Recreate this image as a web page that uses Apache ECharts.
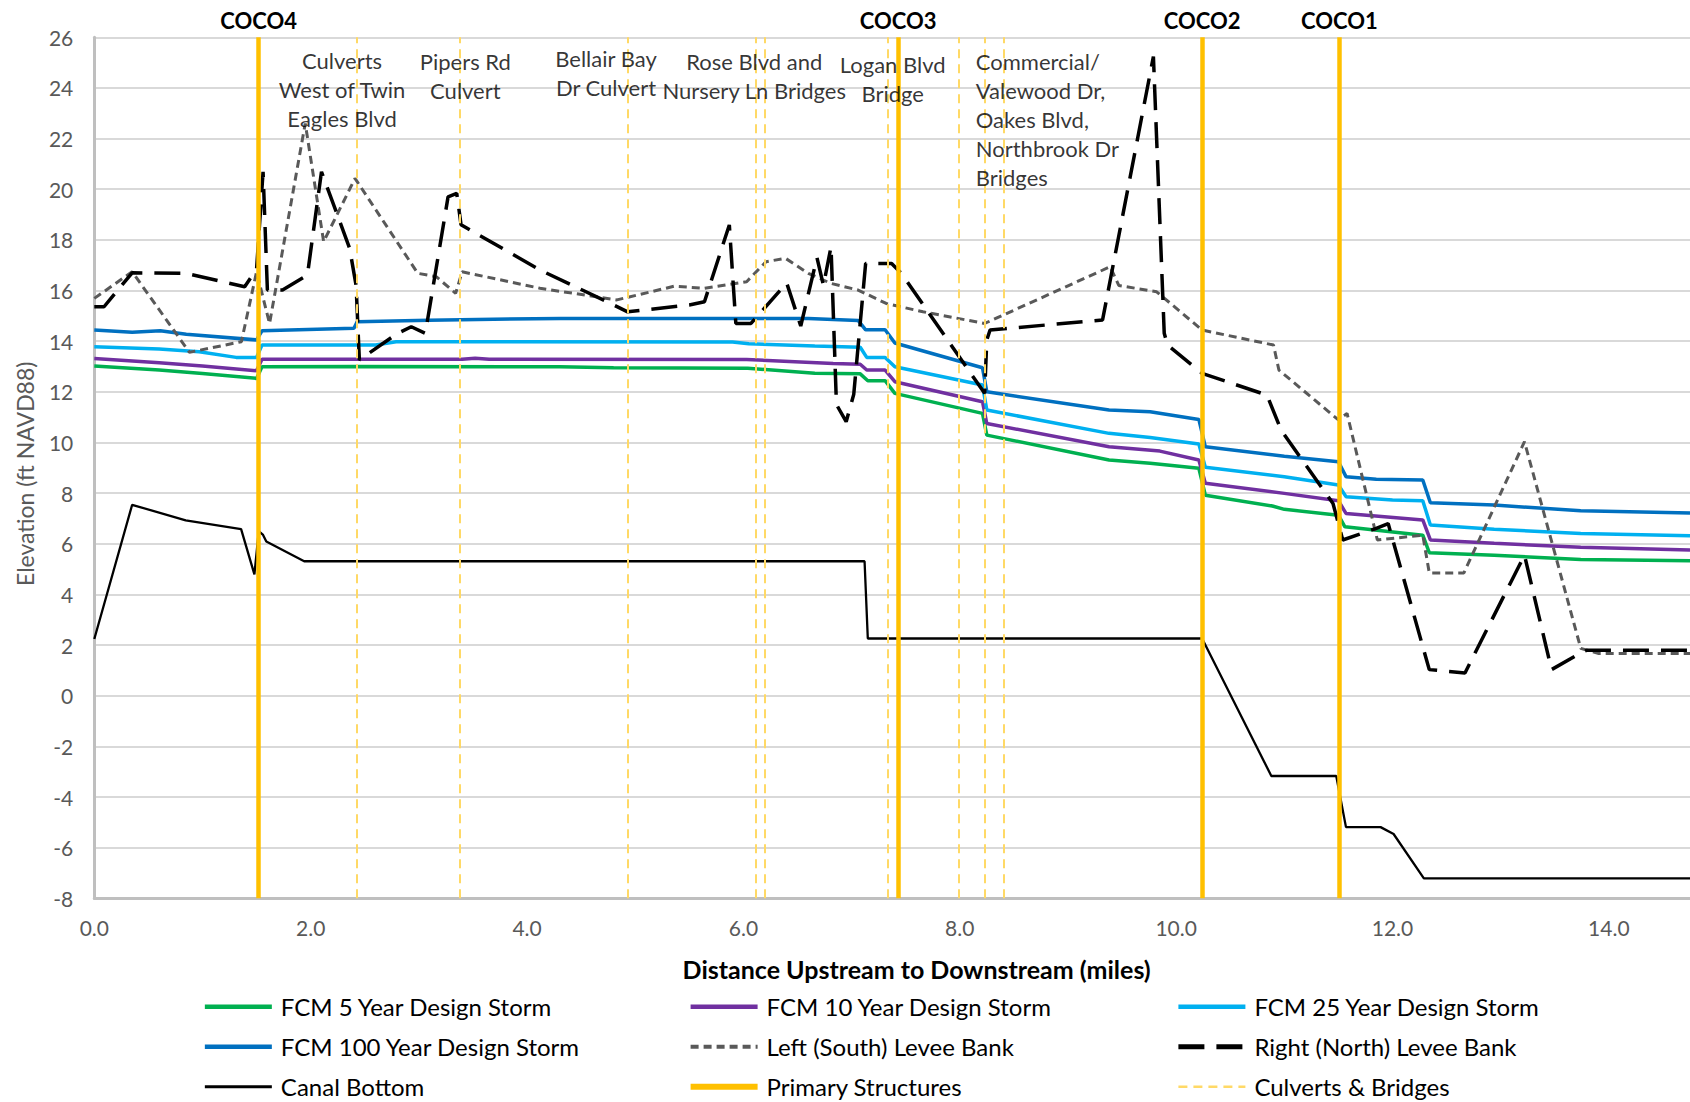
<!DOCTYPE html>
<html>
<head>
<meta charset="utf-8">
<title>Canal Profile</title>
<script src="https://cdn.jsdelivr.net/npm/echarts/dist/echarts.min.js"></script>
<style>
  html, body { margin: 0; padding: 0; background: #ffffff; }
  #chart { width: 1690px; height: 1102px; }
</style>
</head>
<body>
<div id="chart"></div>
<script>
// ---- Profile data: [distance (miles), elevation (ft NAVD88)] ----
const storm5 = [[0,13.02],[0.6,12.86],[1.0,12.72],[1.5,12.53],[1.55,12.99],[2.4,13.0],[4.3,12.99],[4.8,12.95],[6.04,12.93],[6.66,12.73],[7.08,12.71],[7.15,12.44],[7.31,12.44],[7.40,11.94],[8.21,11.15],[8.25,10.29],[9.38,9.31],[9.76,9.18],[10.21,8.98],[10.27,7.92],[10.89,7.49],[11.0,7.36],[11.5,7.13],[11.56,6.67],[12.28,6.34],[12.34,5.65],[12.94,5.55],[13.74,5.38],[14.75,5.33]];

const storm10 = [[0,13.32],[0.6,13.15],[1.0,13.02],[1.5,12.83],[1.55,13.29],[3.40,13.29],[3.52,13.33],[3.65,13.29],[6.03,13.28],[6.83,13.12],[7.08,13.09],[7.14,12.86],[7.31,12.86],[7.40,12.40],[8.21,11.61],[8.25,10.75],[9.38,9.83],[9.85,9.66],[10.21,9.31],[10.27,8.39],[11.0,7.99],[11.5,7.70],[11.57,7.20],[12.28,6.94],[12.35,6.15],[12.94,6.02],[13.74,5.86],[14.75,5.75]];

const storm25 = [[0,13.78],[0.6,13.69],[0.97,13.58],[1.31,13.36],[1.5,13.36],[1.55,13.85],[2.60,13.85],[2.79,13.98],[5.9,13.97],[6.05,13.90],[6.66,13.81],[7.08,13.76],[7.14,13.36],[7.31,13.36],[7.40,12.99],[8.21,12.27],[8.25,11.28],[9.38,10.36],[9.76,10.20],[10.21,9.94],[10.27,9.02],[11.0,8.65],[11.5,8.32],[11.57,7.86],[12.0,7.73],[12.28,7.70],[12.35,6.74],[12.94,6.57],[13.74,6.41],[14.75,6.32]];

const storm100 = [[0,14.44],[0.35,14.35],[0.61,14.41],[0.85,14.27],[1.5,14.05],[1.55,14.41],[2.40,14.51],[2.43,14.77],[3.09,14.83],[4.31,14.90],[6.60,14.90],[7.06,14.82],[7.13,14.45],[7.31,14.45],[7.40,13.93],[8.21,12.95],[8.25,12.0],[9.38,11.28],[9.76,11.21],[10.21,10.91],[10.27,9.83],[11.0,9.46],[11.5,9.24],[11.57,8.65],[11.85,8.55],[12.28,8.52],[12.35,7.62],[12.94,7.53],[13.74,7.30],[14.75,7.22]];

const leftBank = [[0,15.69],[0.35,16.74],[0.88,13.56],[1.36,13.98],[1.50,16.74],[1.62,14.70],[1.95,22.6],[2.12,17.93],[2.41,20.43],[2.99,16.68],[3.16,16.55],[3.34,15.89],[3.40,16.74],[4.12,16.09],[4.83,15.63],[5.36,16.17],[5.64,16.09],[6.03,16.35],[6.21,17.14],[6.39,17.27],[6.60,16.68],[6.81,16.28],[7.06,16.02],[7.32,15.49],[7.66,15.16],[8.23,14.70],[9.39,16.94],[9.47,16.2],[9.82,15.95],[10.24,14.44],[10.90,13.85],[10.95,12.86],[11.28,11.68],[11.50,10.89],[11.58,11.15],[11.86,6.15],[12.28,6.34],[12.34,4.85],[12.66,4.85],[13.22,10.03],[13.74,1.87],[13.90,1.67],[14.75,1.67]];

const rightBank = [[0,15.36],[0.09,15.36],[0.35,16.70],[0.85,16.68],[1.39,16.15],[1.50,16.84],[1.56,20.69],[1.60,16.02],[1.74,16.02],[1.97,16.61],[2.10,20.69],[2.36,17.67],[2.42,16.2],[2.45,13.26],[2.80,14.3],[2.93,14.57],[3.06,14.31],[3.27,19.7],[3.35,19.84],[3.39,18.6],[4.12,16.81],[4.74,15.56],[4.93,15.16],[5.50,15.43],[5.64,15.56],[5.87,18.59],[5.93,14.70],[6.07,14.70],[6.40,16.3],[6.53,14.6],[6.68,17.3],[6.74,16.2],[6.81,17.73],[6.86,11.5],[6.95,10.82],[7.02,11.9],[7.13,17.07],[7.37,17.07],[7.46,16.68],[8.23,11.94],[8.25,14.05],[8.28,14.44],[9.32,14.84],[9.79,25.24],[9.89,14.31],[9.92,13.85],[10.24,12.73],[10.84,11.87],[10.97,10.49],[11.45,7.59],[11.54,6.15],[11.85,6.61],[11.96,6.80],[12.34,1.03],[12.67,0.90],[13.22,5.55],[13.47,1.03],[13.76,1.74],[13.80,1.80],[14.75,1.80]];

const canalBottom = [[0,2.24],[0.35,7.54],[0.845,6.92],[1.357,6.58],[1.48,4.79],[1.52,6.5],[1.56,6.35],[1.59,6.09],[1.94,5.31],[7.12,5.31],[7.15,2.26],[10.24,2.26],[10.88,-3.17],[11.48,-3.17],[11.57,-5.19],[11.89,-5.19],[12.01,-5.46],[12.29,-7.21],[14.75,-7.21]];

// Structure locations (miles)
const primaryNames = ['COCO4', 'COCO3', 'COCO2', 'COCO1'];
const primaryMiles = [1.525, 7.43, 10.24, 11.51];
const culvertMiles = [2.43, 3.38, 4.935, 6.11, 6.20, 7.33, 7.99, 8.23, 8.41];

// Structure names written across the top of the plot
const noteTexts = [
  'Culverts\nWest of Twin\nEagles Blvd',
  'Pipers Rd\nCulvert',
  'Bellair Bay\nDr Culvert',
  'Rose Blvd and\nNursery Ln Bridges',
  'Logan Blvd\nBridge',
  'Commercial/\nValewood Dr,\nOakes Blvd,\nNorthbrook Dr\nBridges'
];
const noteMiles = [2.29, 3.43, 4.73, 6.10, 7.38, 8.148];
const noteElev = [23.95, 24.49, 24.60, 24.46, 24.35, 22.77];

// Axis ranges
const xMin = 0, xMax = 14.75, xStep = 2;
const yMin = -8, yMax = 26, yStep = 2;

const FONT = 'Lato';

function profile(name, data, color, width, dash) {
  return {
    name: name,
    type: 'line',
    data: data,
    symbol: 'none',
    showSymbol: false,
    silent: true,
    animation: false,
    lineStyle: { color: color, width: width, type: dash || 'solid' },
    itemStyle: { color: color }
  };
}

const chart = echarts.init(document.getElementById('chart'), null, { renderer: 'svg' });

const legendText = { fontFamily: FONT, fontSize: 24, color: '#000', lineHeight: 24, padding: [0, 0, 0, 4] };
// legend key with its own stroke width
const key = (name, width) => ({ name: name, lineStyle: { width: width } });
function legendColumn(items, left) {
  return {
    orient: 'vertical',
    left: left,
    top: 994.7,
    padding: 0,
    itemWidth: 67,
    itemHeight: 14,
    itemGap: 16,
    selectedMode: false,
    itemStyle: { opacity: 0 },
    textStyle: legendText,
    data: items
  };
}

const option = {
  backgroundColor: '#ffffff',
  animation: false,
  grid: { left: 94.3, top: 37.3, right: 0, bottom: 203.7, containLabel: false, outerBoundsMode: 'none' },
  xAxis: {
    type: 'value',
    min: xMin, max: xMax, interval: xStep,
    name: 'Distance Upstream to Downstream (miles)',
    nameLocation: 'middle',
    nameGap: 58,
    nameTextStyle: { fontFamily: FONT, fontSize: 25, fontWeight: 'bold', color: '#000', padding: [0, 0, 0, 49] },
    axisLine: { show: true, onZero: false, lineStyle: { color: '#BFBFBF', width: 3 } },
    axisTick: { show: false },
    splitLine: { show: false },
    axisLabel: {
      fontFamily: FONT, fontSize: 21, color: '#595959', margin: 19,
      showMaxLabel: false,
      formatter: v => v.toFixed(1)
    }
  },
  yAxis: {
    type: 'value',
    min: yMin, max: yMax, interval: yStep,
    name: 'Elevation (ft NAVD88)',
    nameLocation: 'middle',
    nameGap: 58,
    nameRotate: 90,
    nameTextStyle: { fontFamily: FONT, fontSize: 23, color: '#595959', padding: [0, 12, 0, 0] },
    axisLine: { show: true, lineStyle: { color: '#BFBFBF', width: 3 } },
    axisTick: { show: false },
    splitLine: { show: true, lineStyle: { color: '#D9D9D9', width: 2 } },
    axisLabel: { fontFamily: FONT, fontSize: 21, color: '#595959', margin: 21 }
  },
  legend: [
    legendColumn([key('FCM 5 Year Design Storm', 4.5), key('FCM 100 Year Design Storm', 4.5), key('Canal Bottom', 3)], 202.6),
    legendColumn([key('FCM 10 Year Design Storm', 4.5), key('Left (South) Levee Bank', 4), key('Primary Structures', 6)], 687.6),
    legendColumn([key('FCM 25 Year Design Storm', 4.5), key('Right (North) Levee Bank', 5), key('Culverts & Bridges', 2.5)], 1175.9)
  ],
  series: [
    profile('FCM 5 Year Design Storm', storm5, '#00B050', 3.5),
    profile('FCM 10 Year Design Storm', storm10, '#7030A0', 3.5),
    profile('FCM 25 Year Design Storm', storm25, '#00B0F0', 3.5),
    profile('FCM 100 Year Design Storm', storm100, '#0070C0', 3.5),
    profile('Left (South) Levee Bank', leftBank, '#595959', 3, [8, 5]),
    profile('Right (North) Levee Bank', rightBank, '#000000', 3.5, [26, 12]),
    profile('Canal Bottom', canalBottom, '#000000', 2.3),
    Object.assign(profile('Primary Structures', [], '#FFC000', 4.5), {
      markLine: {
        silent: true,
        animation: false,
        symbol: ['none', 'none'],
        lineStyle: { color: '#FFC000', width: 4.5, type: 'solid' },
        label: {
          show: true, position: 'end', formatter: '{b}', distance: 6,
          fontFamily: FONT, fontSize: 22, fontWeight: 'bold', color: '#000'
        },
        emphasis: { disabled: true },
        data: primaryMiles.map((x, i) => ({ xAxis: x, name: primaryNames[i] }))
      }
    }),
    Object.assign(profile('Culverts & Bridges', [], '#FFD966', 2, [9, 6]), {
      markLine: {
        silent: true,
        animation: false,
        symbol: ['none', 'none'],
        lineStyle: { color: '#FFD966', width: 2, type: [9, 6] },
        label: { show: false },
        emphasis: { disabled: true },
        data: culvertMiles.map(x => ({ xAxis: x }))
      }
    }),
    {
      type: 'scatter',
      silent: true,
      animation: false,
      symbolSize: 0,
      z: 6,
      data: noteTexts.map((t, i) => {
        const leftAligned = i === noteTexts.length - 1;
        return {
          name: t,
          value: [noteMiles[i], noteElev[i]],
          label: leftAligned
            ? { position: 'right', distance: 0, align: 'left' }
            : { position: 'inside', align: 'center' }
        };
      }),
      label: {
        show: true,
        formatter: '{b}',
        fontFamily: FONT, fontSize: 22, color: '#000', lineHeight: 29,
        verticalAlign: 'middle'
      }
    }
  ]
};

chart.setOption(option);
</script>
</body>
</html>
